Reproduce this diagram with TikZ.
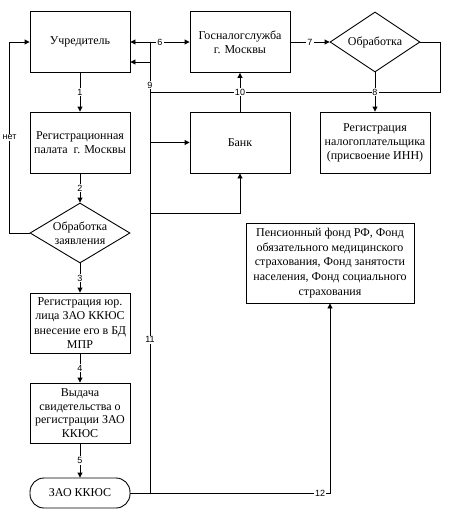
\documentclass[tikz,border=0pt]{standalone}
\usepackage{fontspec}
\setmainfont{Liberation Serif}
\newfontfamily\boxfont{Liberation Serif}
\newfontfamily\lblfont{Liberation Sans}
\usetikzlibrary{shapes.geometric,arrows.meta,calc}
\begin{document}
\begin{tikzpicture}[x=1pt,y=-1pt,line width=0.9pt,
  box/.style={draw,rectangle,minimum width=100pt,minimum height=61pt,align=center,inner sep=1pt,font=\boxfont\fontsize{12}{14}\selectfont},
  diam/.style={draw,diamond,inner sep=0pt},
  txt/.style={align=center,font=\boxfont\fontsize{12}{14}\selectfont},
  lbl/.style={fill=white,inner sep=1pt,font=\lblfont\fontsize{9}{10}\selectfont},
  arr/.style={-{Triangle[length=5pt,width=5pt]}},
  arrb/.style={{Triangle[length=5pt,width=5pt]}-{Triangle[length=5pt,width=5pt]}}]
\useasboundingbox (0,0) rectangle (455,520);
% nodes
\node[box] (u) at (80,42) {Учредитель};
\node[box] (g) at (240,42) {Госналогслужба\\г. Москвы};
\node[diam,minimum width=90pt,minimum height=60pt] (o) at (375,42) {};
\node[txt] (ot) at (o) {Обработка};
\node[box] (r) at (80,142.5) {Регистрационная\\палата\ \ г. Москвы};
\node[box] (b) at (240,142.5) {Банк};
\node[box,minimum width=110pt] (n) at (375,142.5) {Регистрация\\налогоплательщика\\(присвоение ИНН)};
\node[diam,minimum width=100pt,minimum height=60pt] (oz) at (80,233) {};
\node[txt] (ozt) at (oz) {Обработка\\заявления};
\node[box,minimum height=60pt,font=\boxfont\fontsize{12}{14.2}\selectfont] (j) at (80,323) {Регистрация юр.\\лица ЗАО ККЮС\\внесение его в БД\\МПР};
\node[box,minimum height=60pt,font=\boxfont\fontsize{12}{13.7}\selectfont] (v) at (80,413) {Выдача\\свидетельства о\\регистрации ЗАО\\ККЮС};
\node[draw,rounded corners=14pt,minimum width=100pt,minimum height=30pt,txt] (z) at (80,493) {ЗАО ККЮС};
\node[box,minimum width=168pt,minimum height=80pt,font=\boxfont\fontsize{12}{14.6}\selectfont] (p) at (330,263) {Пенсионный фонд РФ, Фонд\\обязательного медицинского\\страхования, Фонд занятости\\населения, Фонд социального\\страхования};
% helper coordinates
\coordinate (tr) at (150,42);
\coordinate (ju) at ([yshift=-20pt]u.east);
\coordinate (cb) at (150,213);
% trunk from ZAO (11) and to fund (12)
\draw (z.east) -| node[lbl,pos=0.67]{11} (tr);
\draw[arr] (z.east) -| node[lbl,pos=0.475]{12} (p.south);
% feedback line 9
\draw[arr] (o.east) -- ++(20,0) |- (150,92) -- node[lbl,pos=0.23]{9} (150,62) -- (ju);
% bank
\draw[arr] (b.west -| tr) -- (b.west);
\draw[arr] (cb) -| (b.south);
\draw[arr] (b.north) -- node[lbl]{10} (g.south);
% top row
\draw[arrb] (u.east) -- node[lbl]{6} (g.west);
\draw[arr] (g.east) -- node[lbl]{7} (o.west);
\draw[arr] (o.south) -- node[lbl]{8} (n.north);
% left column
\draw[arr] (u.south) -- node[lbl]{1} (r.north);
\draw[arr] (r.south) -- node[lbl]{2} (oz.north);
\draw[arr] (oz.south) -- node[lbl]{3} (j.north);
\draw[arr] (j.south) -- node[lbl]{4} (v.north);
\draw[arr] (v.south) -- node[lbl]{5} (z.north);
\draw[arr] (oz.west) -- ++(-20,0) |- node[lbl,pos=0.25]{нет} (u.west);
\end{tikzpicture}
\end{document}
